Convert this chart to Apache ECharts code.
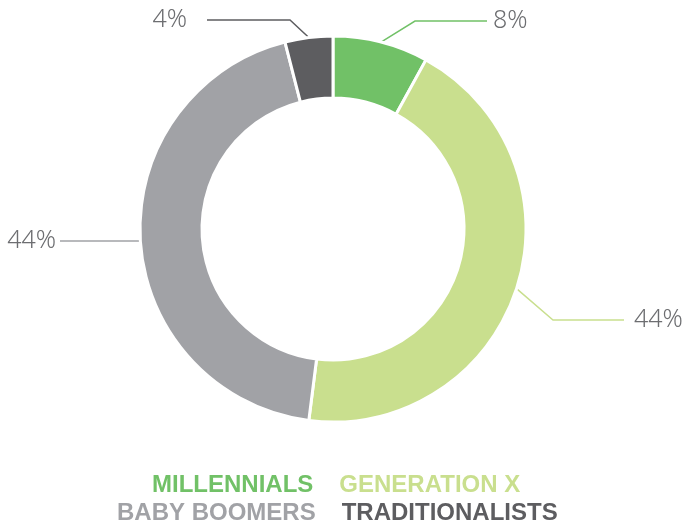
<!DOCTYPE html>
<html>
<head>
<meta charset="utf-8">
<script src="https://cdn.jsdelivr.net/npm/echarts@6/dist/echarts.min.js"></script>
<style>
  html, body { margin: 0; padding: 0; background: #fff; }
  #chart { width: 699px; height: 525px; }
</style>
</head>
<body>
<div id="chart"></div>
<script>
var categories = ['MILLENNIALS', 'GENERATION X', 'BABY BOOMERS', 'TRADITIONALISTS'];
var shares = [8, 44, 44, 4];
var colors = ['#71c167', '#c9df8e', '#a1a2a6', '#5d5d60'];

// where each label line bends and ends, and where the text sits
var labelGeo = [
    { bend: [415, 21], end: [487, 21], tx: 493, align: 'left' },
    { bend: [553, 320], end: [624, 320], tx: 634, align: 'left' },
    { bend: [112, 241], end: [60, 241], tx: 56, align: 'right' },
    { bend: [290, 20], end: [207, 20], tx: 187, align: 'right' }
];

var pieData = categories.map(function (name, i) {
    return {
        name: name,
        value: shares[i],
        itemStyle: { color: colors[i] },
        labelLine: { lineStyle: { color: colors[i] } }
    };
});

function legendRow(names, top, left) {
    return {
        top: top,
        left: left,
        orient: 'horizontal',
        icon: 'none',
        itemWidth: 0,
        itemGap: 21,
        selectedMode: false,
        textStyle: {
            fontFamily: 'Liberation Sans, Arial, sans-serif',
            fontWeight: 'bold',
            fontSize: 24
        },
        data: names.map(function (n) {
            return { name: n, textStyle: { color: colors[categories.indexOf(n)] } };
        })
    };
}

var chart = echarts.init(document.getElementById('chart'));
chart.setOption({
    animation: false,
    legend: [
        legendRow([categories[0], categories[1]], 468, 142),
        legendRow([categories[2], categories[3]], 496, 107)
    ],
    series: [
        {
            type: 'pie',
            center: [333, 229],
            radius: [131, 193],
            startAngle: 90,
            itemStyle: { borderColor: '#fff', borderWidth: 3 },
            label: {
                show: true,
                position: 'outside',
                formatter: '{c}%',
                fontFamily: '"Noto Sans", sans-serif',
                fontWeight: 300,
                fontSize: 25,
                color: '#6d6e71'
            },
            labelLine: { show: true, length: 20, length2: 40, lineStyle: { width: 1.5 } },
            labelLayout: function (params) {
                var g = labelGeo[params.dataIndex];
                var start = params.labelLinePoints ? params.labelLinePoints[0] : g.bend;
                return {
                    x: g.tx,
                    y: g.end[1],
                    align: g.align,
                    verticalAlign: 'middle',
                    labelLinePoints: [start, g.bend, g.end]
                };
            },
            data: pieData
        }
    ]
});
</script>
</body>
</html>
